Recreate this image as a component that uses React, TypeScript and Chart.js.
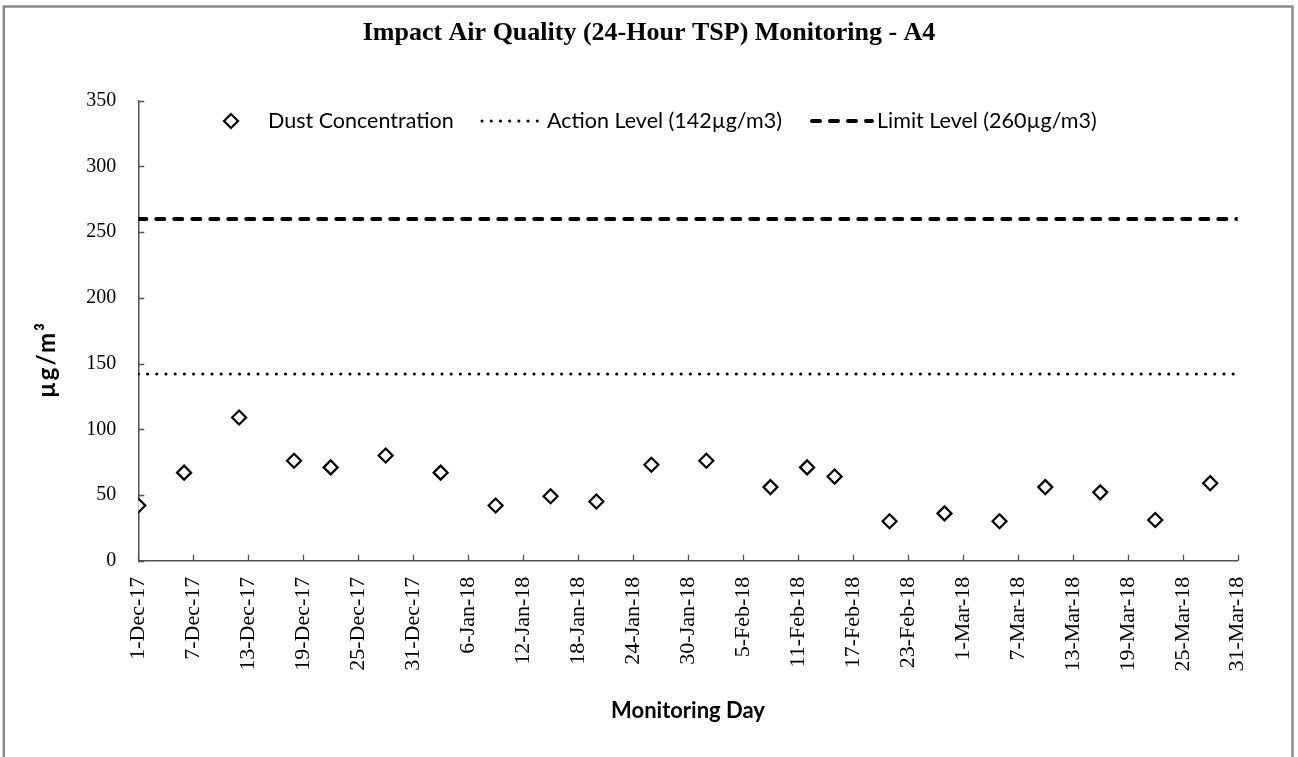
import React, { useEffect, useRef } from 'react';
import { Chart, registerables } from 'chart.js';

Chart.register(...registerables);

// ---------- data ----------
const chartTitle = 'Impact Air Quality (24-Hour TSP) Monitoring - A4';
const xAxisTitle = 'Monitoring Day';
const yAxisTitle = 'µg/m³';

const startDate = '2017-12-01';
const endDate = '2018-03-31';
const xTickStepDays = 6;
const xTickLabels = [
  '1-Dec-17', '7-Dec-17', '13-Dec-17', '19-Dec-17', '25-Dec-17', '31-Dec-17',
  '6-Jan-18', '12-Jan-18', '18-Jan-18', '24-Jan-18', '30-Jan-18',
  '5-Feb-18', '11-Feb-18', '17-Feb-18', '23-Feb-18',
  '1-Mar-18', '7-Mar-18', '13-Mar-18', '19-Mar-18', '25-Mar-18', '31-Mar-18',
];

const sampleDates = [
  '2017-12-01', '2017-12-06', '2017-12-12', '2017-12-18', '2017-12-22', '2017-12-28',
  '2018-01-03', '2018-01-09', '2018-01-15', '2018-01-20', '2018-01-26',
  '2018-02-01', '2018-02-08', '2018-02-12', '2018-02-15', '2018-02-21', '2018-02-27',
  '2018-03-05', '2018-03-10', '2018-03-16', '2018-03-22', '2018-03-28',
];
const dustValues = [
  42, 67, 109, 76, 71, 80,
  67, 42, 49, 45, 73,
  76, 56, 71, 64, 30, 36,
  30, 56, 52, 31, 59,
];

const actionLevel = 142;
const limitLevel = 260;
const seriesLabels = ['Dust Concentration', 'Action Level (142µg/m3)', 'Limit Level (260µg/m3)'];

const yMin = 0;
const yMax = 350;
const yStep = 50;

// ---------- helpers ----------
const DAY_MS = 86400000;
const dayOffset = (iso: string) => Math.round((Date.parse(iso) - Date.parse(startDate)) / DAY_MS);
const lastDay = dayOffset(endDate);

const SANS = 'Lato, "Liberation Sans", sans-serif';
const SERIF = '"Liberation Serif", "Times New Roman", serif';
const AXIS_COLOR = '#505050';

const framePlugin = {
  id: 'frame',
  beforeDraw(chart: any) {
    const { ctx, width, height } = chart;
    ctx.save();
    ctx.fillStyle = '#ffffff';
    ctx.fillRect(0, 0, width, height);
    ctx.strokeStyle = '#8a8a8a';
    ctx.lineWidth = 2.5;
    ctx.beginPath();
    ctx.moveTo(3.8, height);
    ctx.lineTo(3.8, 6.5);
    ctx.lineTo(1292.5, 6.5);
    ctx.lineTo(1292.5, height);
    ctx.stroke();
    ctx.restore();
  },
};

const inwardTicksPlugin = {
  id: 'inwardTicks',
  afterDraw(chart: any) {
    const { ctx, chartArea } = chart;
    const xs = chart.scales.x;
    const ys = chart.scales.y;
    ctx.save();
    ctx.strokeStyle = AXIS_COLOR;
    ctx.lineWidth = 1.3;
    ctx.beginPath();
    xs.ticks.forEach((t: any) => {
      const px = Math.round(xs.getPixelForValue(t.value)) + 0.5;
      ctx.moveTo(px, chartArea.bottom);
      ctx.lineTo(px, chartArea.bottom - 6);
    });
    ys.ticks.forEach((t: any) => {
      const py = Math.round(ys.getPixelForValue(t.value)) + 0.5;
      ctx.moveTo(chartArea.left, py);
      ctx.lineTo(chartArea.left + 6, py);
    });
    ctx.stroke();
    ctx.restore();
  },
};

const drawDiamond = (ctx: CanvasRenderingContext2D, cx: number, cy: number, r: number) => {
  ctx.beginPath();
  ctx.moveTo(cx - r, cy);
  ctx.lineTo(cx, cy - r);
  ctx.lineTo(cx + r, cy);
  ctx.lineTo(cx, cy + r);
  ctx.closePath();
  ctx.fillStyle = '#ffffff';
  ctx.fill();
  ctx.stroke();
};

const legendLayout = [
  { sampleStart: 231, sampleEnd: 231, textX: 268 },
  { sampleStart: 482, sampleEnd: 539, textX: 547 },
  { sampleStart: 812, sampleEnd: 872, textX: 877 },
];
const legendY = 121;

const customLegendPlugin = {
  id: 'customLegend',
  afterDraw(chart: any) {
    const { ctx } = chart;
    const ds = chart.data.datasets;
    ctx.save();
    ds.forEach((d: any, i: number) => {
      const lay = legendLayout[i];
      ctx.strokeStyle = d.borderColor;
      ctx.lineWidth = d.borderWidth;
      if (i === 0) {
        ctx.setLineDash([]);
        ctx.lineJoin = 'miter';
        drawDiamond(ctx, lay.sampleStart, legendY, d.pointRadius);
      } else {
        ctx.setLineDash(d.borderDash || []);
        ctx.lineCap = d.borderCapStyle || 'butt';
        ctx.beginPath();
        ctx.moveTo(lay.sampleStart, legendY);
        ctx.lineTo(lay.sampleEnd, legendY);
        ctx.stroke();
      }
      ctx.setLineDash([]);
      ctx.fillStyle = '#000000';
      ctx.font = `21.5px ${SANS}`;
      ctx.textBaseline = 'middle';
      ctx.textAlign = 'left';
      ctx.fillText(d.label, lay.textX, legendY);
    });
    ctx.restore();
  },
};

const yTitlePlugin = {
  id: 'yTitle',
  afterDraw(chart: any) {
    const { ctx } = chart;
    ctx.save();
    ctx.translate(47.5, 359.5);
    ctx.rotate(-Math.PI / 2);
    ctx.font = `bold 24px ${SANS}`;
    try { (ctx as any).letterSpacing = '2px'; } catch (e) { /* ignore */ }
    ctx.fillStyle = '#000000';
    ctx.textAlign = 'center';
    ctx.textBaseline = 'middle';
    ctx.fillText(yAxisTitle, 0, 0);
    ctx.restore();
  },
};

export default function App() {
  const canvasRef = useRef<HTMLCanvasElement>(null);

  useEffect(() => {
    if (!canvasRef.current) return;
    const dustPoints = sampleDates.map((d, i) => ({ x: dayOffset(d), y: dustValues[i] }));
    const actionPoints = [{ x: 0, y: actionLevel }, { x: lastDay, y: actionLevel }];
    const limitPoints = [{ x: 0, y: limitLevel }, { x: lastDay, y: limitLevel }];

    const chart = new Chart(canvasRef.current, {
      type: 'scatter',
      data: {
        datasets: [
          {
            label: seriesLabels[0],
            data: dustPoints,
            showLine: false,
            pointStyle: 'rectRot',
            pointRadius: 7,
            pointHoverRadius: 7,
            borderWidth: 2.2,
            borderColor: '#000000',
            backgroundColor: '#ffffff',
            order: 0,
          },
          {
            label: seriesLabels[1],
            data: actionPoints,
            showLine: true,
            pointRadius: 0,
            borderColor: '#000000',
            borderWidth: 3,
            borderDash: [0.1, 9.1],
            borderCapStyle: 'round',
            order: 1,
          },
          {
            label: seriesLabels[2],
            data: limitPoints,
            showLine: true,
            pointRadius: 0,
            borderColor: '#000000',
            borderWidth: 4,
            borderDash: [8, 10],
            borderCapStyle: 'round',
            order: 2,
          },
        ] as any,
      },
      options: {
        responsive: false,
        animation: false,
        devicePixelRatio: 1,
        events: [],
        layout: { padding: { left: 60.3, right: 60.3, top: 0, bottom: 0 } },
        plugins: {
          legend: { display: false },
          tooltip: { enabled: false },
          title: {
            display: true,
            text: chartTitle,
            color: '#000000',
            font: { family: SERIF, size: 26, weight: 'bold', lineHeight: 1.2 },
            padding: { top: 17.4, bottom: 52.1 },
          },
        },
        scales: {
          x: {
            type: 'linear',
            min: 0,
            max: lastDay,
            afterFit: (s: any) => { s.height = 196.3; },
            grid: { display: false, drawTicks: false },
            border: { display: true, color: AXIS_COLOR, width: 1.5 },
            ticks: {
              stepSize: xTickStepDays,
              autoSkip: false,
              minRotation: 90,
              maxRotation: 90,
              padding: 16,
              color: '#000000',
              font: { family: SERIF, size: 22 },
              callback: (v: any) => xTickLabels[Math.round(Number(v) / xTickStepDays)] ?? '',
            },
            title: {
              display: true,
              text: xAxisTitle,
              color: '#000000',
              font: { family: SANS, size: 22, weight: 'bold', lineHeight: 1.2 },
              padding: { top: 0, bottom: 33.3 },
            },
          },
          y: {
            type: 'linear',
            min: yMin,
            max: yMax,
            afterFit: (s: any) => { s.width = 78; },
            grid: { display: false, drawTicks: false },
            border: { display: true, color: AXIS_COLOR, width: 1.5 },
            ticks: {
              stepSize: yStep,
              padding: 22,
              color: '#000000',
              font: { family: SERIF, size: 20 },
            },
          },
        },
      } as any,
      plugins: [framePlugin, inwardTicksPlugin, customLegendPlugin, yTitlePlugin],
    });

    return () => chart.destroy();
  }, []);

  return (
    <div style={{ position: 'absolute', left: 0, top: 0, width: 1298, height: 757, background: '#ffffff' }}>
      <canvas ref={canvasRef} width={1298} height={757} style={{ display: 'block', width: 1298, height: 757 }} />
    </div>
  );
}
